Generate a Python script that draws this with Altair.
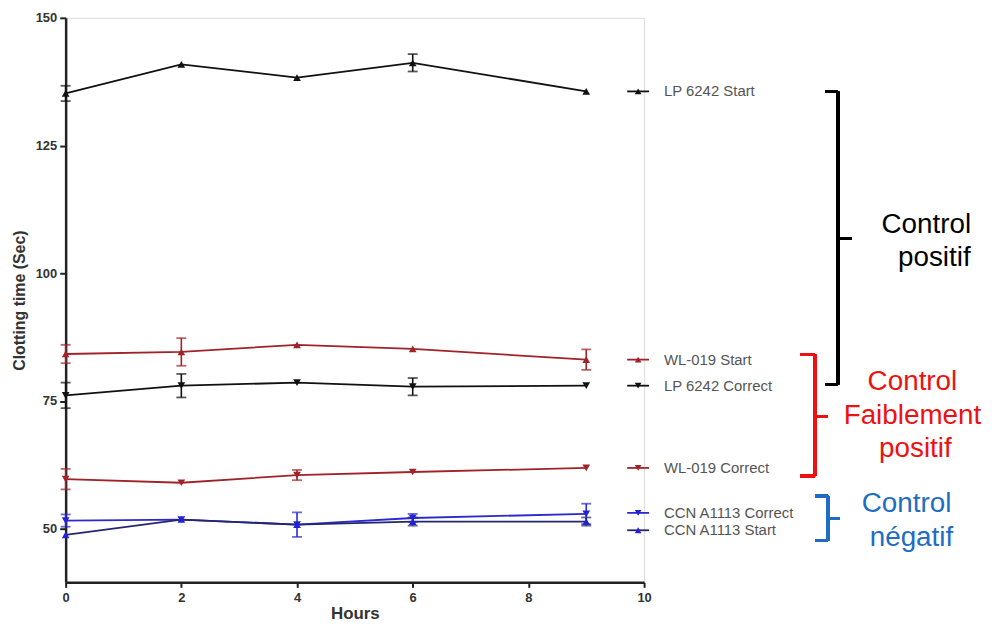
import altair as alt
import pandas as pd

hours = [0, 2, 4, 6, 9]

series = ["LP 6242 Start", "WL-019 Start", "LP 6242 Correct",
          "WL-019 Correct", "CCN A1113 Correct", "CCN A1113 Start"]
legend_labels = ["LP 6242 Start", "WL-019 Start", "LP 6242 Correct",
                 "WL-019 Correct", "CCN A1113 Correct", "CCN A1113 Start"]

values = {
    "LP 6242 Start":     [135.2, 140.9, 138.3, 141.2, 135.6],
    "WL-019 Start":      [84.2, 84.6, 86.0, 85.2, 83.1],
    "LP 6242 Correct":   [76.1, 78.0, 78.6, 77.8, 78.0],
    "WL-019 Correct":    [59.7, 59.0, 60.5, 61.1, 61.9],
    "CCN A1113 Correct": [51.6, 51.8, 50.8, 52.1, 52.9],
    "CCN A1113 Start":   [48.8, 51.8, 50.8, 51.4, 51.4],
}
errors = {
    "LP 6242 Start":     [1.5, 0, 0, 1.7, 0],
    "WL-019 Start":      [1.8, 2.7, 0, 0, 2.0],
    "LP 6242 Correct":   [2.5, 2.3, 0, 1.7, 0],
    "WL-019 Correct":    [2.0, 0, 1.0, 0, 0],
    "CCN A1113 Correct": [1.2, 0, 2.4, 0.8, 2.0],
    "CCN A1113 Start":   [0, 0, 0, 0.8, 0.8],
}
legend_nudge = [0, 0, 0, 0, 0.2, -1.7]

line_colors = ["#111111", "#a0232a", "#111111", "#a0232a", "#2a2ad0", "#26266e"]
marker_colors = ["#111111", "#a0232a", "#111111", "#a0232a", "#2222d8", "#2222d8"]
shapes = ["triangle-up", "triangle-up", "triangle-down", "triangle-down",
          "triangle-down", "triangle-up"]

rows = []
for s in series:
    for h, v, e in zip(hours, values[s], errors[s]):
        rows.append({"series": s, "hours": h, "value": v, "err": e,
                     "lo": v - e, "hi": v + e})
df = pd.DataFrame(rows)
err_df = df[df["err"] > 0]

leg_df = pd.DataFrame({
    "series": series,
    "label": legend_labels,
    "ly": [values[s][-1] + n for s, n in zip(series, legend_nudge)],
})

FONT = "Liberation Sans"
x_scale = alt.Scale(domain=[0, 10], nice=False)
y_scale = alt.Scale(domain=[39.5, 150], nice=False, zero=False)
col_line = alt.Color("series:N", scale=alt.Scale(domain=series, range=line_colors), legend=None)
col_mark = alt.Fill("series:N", scale=alt.Scale(domain=series, range=marker_colors), legend=None)
col_err = alt.Color("series:N", scale=alt.Scale(domain=series, range=marker_colors), legend=None)
shape_enc = alt.Shape("series:N", scale=alt.Scale(domain=series, range=shapes), legend=None)

base = alt.Chart(df)

lines = base.mark_line(strokeWidth=1.8).encode(
    x=alt.X("hours:Q", scale=x_scale,
            axis=alt.Axis(values=[0, 2, 4, 6, 8, 10], format="d", title="Hours",
                          grid=False, labelFlush=False,
                          domainColor="#222", domainWidth=2.5, tickColor="#222",
                          tickWidth=2, tickSize=5, labelFont=FONT, labelFontSize=13,
                          labelFontWeight="bold", labelColor="#333",
                          titleFont=FONT, titleFontSize=17, titleFontWeight="bold",
                          titleColor="#333", titlePadding=1, labelPadding=4)),
    y=alt.Y("value:Q", scale=y_scale,
            axis=alt.Axis(values=[50, 75, 100, 125, 150], title="Clotting time (Sec)",
                          grid=False, domainColor="#222", domainWidth=2.5,
                          tickColor="#222", tickWidth=2, tickSize=6,
                          labelFont=FONT, labelFontSize=13, labelFontWeight="bold",
                          labelColor="#333", labelPadding=3, labelFlush=False,
                          titleFont=FONT, titleFontSize=16,
                          titleFontWeight="bold", titleColor="#333", titlePadding=8)),
    color=col_line,
    detail="series:N",
)

points = base.mark_point(filled=True, size=60, opacity=1, strokeWidth=0).encode(
    x=alt.X("hours:Q", scale=x_scale),
    y=alt.Y("value:Q", scale=y_scale),
    fill=col_mark,
    shape=shape_enc,
)

err_rule = alt.Chart(err_df).mark_rule(strokeWidth=1.6).encode(
    x=alt.X("hours:Q", scale=x_scale),
    y=alt.Y("lo:Q", scale=y_scale),
    y2="hi:Q",
    color=col_err,
)
cap_hi = alt.Chart(err_df).mark_tick(orient="horizontal", size=10, thickness=1.8).encode(
    x=alt.X("hours:Q", scale=x_scale),
    y=alt.Y("hi:Q", scale=y_scale),
    color=col_err,
)
cap_lo = alt.Chart(err_df).mark_tick(orient="horizontal", size=10, thickness=1.8).encode(
    x=alt.X("hours:Q", scale=x_scale),
    y=alt.Y("lo:Q", scale=y_scale),
    color=col_err,
)

leg = alt.Chart(leg_df)
leg_line = leg.mark_rule(strokeWidth=1.8).encode(
    x=alt.value(565), x2=alt.value(587),
    y=alt.Y("ly:Q", scale=y_scale),
    color=col_err,
)
leg_pt = leg.mark_point(filled=True, size=45, opacity=1, strokeWidth=0).encode(
    x=alt.value(576),
    y=alt.Y("ly:Q", scale=y_scale),
    fill=col_mark,
    shape=shape_enc,
)
leg_txt = leg.mark_text(align="left", baseline="middle", font=FONT, fontSize=15,
                        color="#555").encode(
    x=alt.value(602),
    y=alt.Y("ly:Q", scale=y_scale),
    text="label:N",
)


def bracket(xv, xstub, top, bot, tip, xtip, color):
    seg = []
    seg.append(alt.Chart(df).mark_rule(color=color, strokeWidth=2.5).encode(
        x=alt.value(xv), y=alt.value(top), y2=alt.value(bot)))
    seg.append(alt.Chart(df).mark_rule(color=color, strokeWidth=2.5).encode(
        x=alt.value(xstub), x2=alt.value(xv), y=alt.value(top)))
    seg.append(alt.Chart(df).mark_rule(color=color, strokeWidth=2.5).encode(
        x=alt.value(xstub), x2=alt.value(xv), y=alt.value(bot)))
    seg.append(alt.Chart(df).mark_rule(color=color, strokeWidth=2.5).encode(
        x=alt.value(xv), x2=alt.value(xtip), y=alt.value(tip)))
    return seg


brackets = []
brackets += bracket(777, 764, 74, 369, 222, 791, "#000000")
brackets += bracket(754, 739, 339, 461, 401, 767, "#ee1111")
brackets += bracket(767, 754, 481, 526, 504, 779, "#1f6dc2")

group_text = [
    ("Control", 866, 216, "#000000"), ("positif", 874, 250, "#000000"),
    ("Control", 852, 374, "#ee1111"), ("Faiblement", 852, 409, "#ee1111"),
    ("positif", 855, 442, "#ee1111"),
    ("Control", 846, 497, "#1f6dc2"), ("négatif", 851, 531, "#1f6dc2"),
]
gtexts = [alt.Chart(pd.DataFrame({"t": [t]})).mark_text(
    align="center", baseline="alphabetic", font=FONT, fontSize=28, color=c).encode(
    x=alt.value(xx), y=alt.value(yy), text="t:N") for t, xx, yy, c in group_text]

chart = alt.layer(lines, err_rule, cap_hi, cap_lo, points, leg_line, leg_pt, leg_txt,
                  *brackets, *gtexts).properties(
    width=582, height=568,
    autosize=alt.AutoSizeParams(type="none"),
    padding={"left": 58, "top": 8, "right": 342, "bottom": 42},
).configure_view(stroke=None).configure(background="white")

chart.save("out.html", embed_options={"renderer": "svg", "actions": False})
